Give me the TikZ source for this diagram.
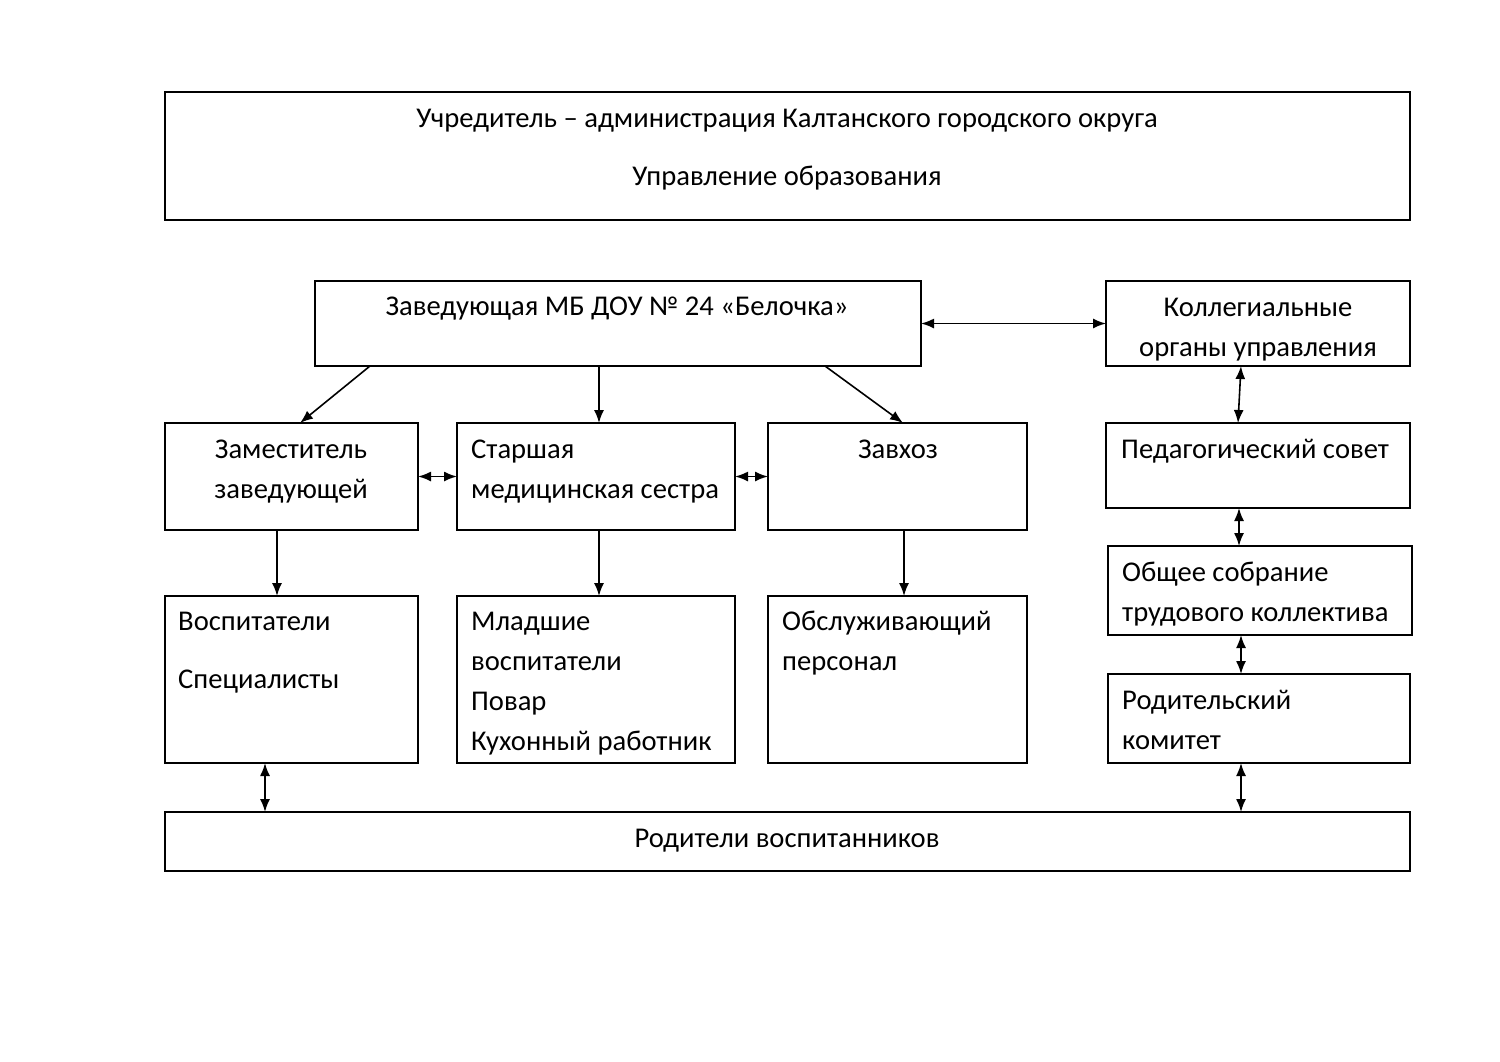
\documentclass[tikz,border=0pt]{standalone}
\usepackage{fontspec}
\setmainfont{Carlito}
\usetikzlibrary{arrows.meta,calc}
\begin{document}
\begin{tikzpicture}[x=1pt,y=-1pt,
  box/.style={draw, line width=1.6pt, inner sep=0pt, outer sep=0pt, anchor=north west},
  txt/.style={inner sep=0pt, font=\fontsize{28.6}{32}\selectfont},
  ctxt/.style={txt, anchor=base},
  ltxt/.style={txt, anchor=base west},
  arr/.style={line width=1.6pt, -{Latex[length=13pt,width=10pt]}},
  darr/.style={line width=1.6pt, {Latex[length=13pt,width=10pt]}-{Latex[length=13pt,width=10pt]}}]
\useasboundingbox (0,0) rectangle (1500,1061);
% boxes
\node[box, minimum width=1245pt, minimum height=128pt] (top) at (165,92) {};
\node[box, minimum width=606pt, minimum height=85pt] (zav) at (315,281) {};
\node[box, minimum width=304pt, minimum height=85pt] (koll) at (1106,281) {};
\node[box, minimum width=253pt, minimum height=107pt] (zam) at (165,423) {};
\node[box, minimum width=278pt, minimum height=107pt] (st) at (457,423) {};
\node[box, minimum width=259pt, minimum height=107pt] (zh) at (768,423) {};
\node[box, minimum width=304pt, minimum height=85pt] (ped) at (1106,423) {};
\node[box, minimum width=304pt, minimum height=89pt] (ob) at (1108,546) {};
\node[box, minimum width=302pt, minimum height=89pt] (rk) at (1108,674) {};
\node[box, minimum width=253pt, minimum height=167pt] (vos) at (165,596) {};
\node[box, minimum width=278pt, minimum height=167pt] (ml) at (457,596) {};
\node[box, minimum width=259pt, minimum height=167pt] (obs) at (768,596) {};
\node[box, minimum width=1245pt, minimum height=59pt] (rod) at (165,812) {};
% texts
\node[ctxt] (t1) at (787,127) {Учредитель – администрация Калтанского городского округа};
\node[ctxt] (t2) at (787,185) {Управление образования};
\node[ctxt] (t3) at (617,315) {Заведующая МБ ДОУ № 24 «Белочка»};
\node[ctxt] (t4) at (1258,316) {Коллегиальные};
\node[ctxt] (t5) at (1258,356) {органы управления};
\node[ctxt] (t6) at (291,458) {Заместитель};
\node[ctxt] (t7) at (291,498) {заведующей};
\node[ltxt] (t8) at (471,458) {Старшая};
\node[ltxt] (t9) at (471,498) {медицинская сестра};
\node[ctxt] (t10) at (898,458) {Завхоз};
\node[ltxt] (t11) at (1121,458) {Педагогический совет};
\node[ltxt] (t12) at (1122,581) {Общее собрание};
\node[ltxt] (t13) at (1122,621) {трудового коллектива};
\node[ltxt] (t14) at (1122,709) {Родительский};
\node[ltxt] (t15) at (1122,749) {комитет};
\node[ltxt] (t16) at (178,630) {Воспитатели};
\node[ltxt] (t17) at (178,688) {Специалисты};
\node[ltxt] (t18) at (471,630) {Младшие};
\node[ltxt] (t19) at (471,670) {воспитатели};
\node[ltxt] (t20) at (471,710) {Повар};
\node[ltxt] (t21) at (471,750) {Кухонный работник};
\node[ltxt] (t22) at (782,630) {Обслуживающий};
\node[ltxt] (t23) at (782,670) {персонал};
\node[ctxt] (t24) at (787,847) {Родители воспитанников};
% connectors
\draw[arr] ([xshift=55pt]zav.south west) -- ([xshift=135pt]zam.north west);
\draw[arr] ([xshift=284pt]zav.south west) -- ([xshift=142pt]st.north west);
\draw[arr] ([xshift=510pt]zav.south west) -- ([xshift=135pt]zh.north west);
\draw[darr] (zav.east) -- (koll.west);
\draw[darr] ([xshift=135pt]koll.south west) -- ([xshift=132pt]ped.north west);
\draw[darr] (zam.east) -- (st.west);
\draw[darr] (st.east) -- (zh.west);
\draw[arr] ([xshift=112pt]zam.south west) -- ([xshift=112pt]vos.north west);
\draw[arr] ([xshift=142pt]st.south west) -- ([xshift=142pt]ml.north west);
\draw[arr] ([xshift=136pt]zh.south west) -- ([xshift=136pt]obs.north west);
\draw[darr] ([xshift=133pt]ped.south west) -- ([xshift=131pt]ob.north west);
\draw[darr] ([xshift=133pt]ob.south west) -- ([xshift=133pt]rk.north west);
\draw[darr] ([xshift=100pt]vos.south west) -- ([xshift=100pt]rod.north west);
\draw[darr] ([xshift=133pt]rk.south west) -- ([xshift=1076pt]rod.north west);
\end{tikzpicture}
\end{document}
